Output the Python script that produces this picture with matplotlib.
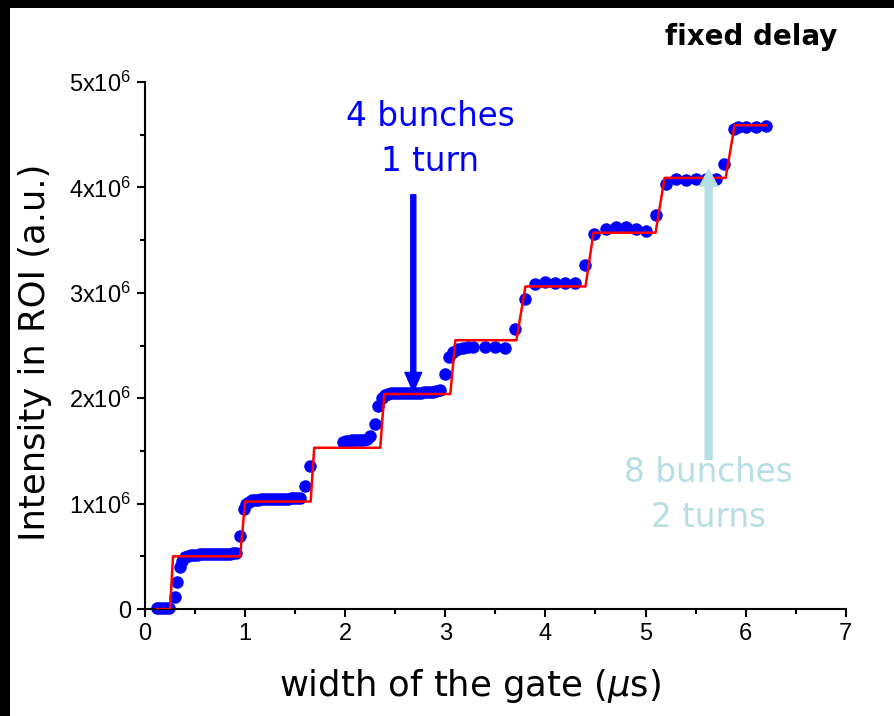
import matplotlib
matplotlib.use("Agg")
import matplotlib.pyplot as plt
from matplotlib.patches import Rectangle
from matplotlib.ticker import MultipleLocator, FuncFormatter

# measured points (gate width in us, intensity in units of 1e6)
gate_width = [0.12, 0.15, 0.18, 0.21, 0.24,
              0.30, 0.32, 0.35, 0.37,
              0.40, 0.43, 0.46, 0.49, 0.52, 0.55, 0.58, 0.61, 0.64, 0.67,
              0.70, 0.73, 0.76, 0.79, 0.82, 0.85, 0.88, 0.91,
              0.95, 0.99, 1.01,
              1.04, 1.07, 1.10, 1.13, 1.16, 1.19, 1.22, 1.25, 1.28, 1.31,
              1.34, 1.37, 1.40, 1.43, 1.46, 1.49, 1.52, 1.55,
              1.60, 1.65,
              1.98, 2.01, 2.04, 2.07, 2.10, 2.13, 2.16, 2.19, 2.22,
              2.25, 2.30, 2.33, 2.37,
              2.40, 2.43, 2.46, 2.49, 2.52, 2.55, 2.58, 2.61, 2.64, 2.67,
              2.70, 2.73, 2.76, 2.79, 2.82, 2.85, 2.88, 2.91, 2.95,
              3.00, 3.04, 3.08,
              3.13, 3.18, 3.23, 3.28, 3.40, 3.50, 3.60,
              3.70, 3.80,
              3.90, 4.00, 4.10, 4.20, 4.30,
              4.40, 4.49,
              4.60, 4.70, 4.80, 4.90, 5.00,
              5.10, 5.20,
              5.30, 5.40, 5.50, 5.60, 5.70,
              5.78, 5.88,
              5.92, 6.00, 6.10, 6.20]
intensity = [0.01, 0.01, 0.01, 0.01, 0.01,
             0.11, 0.26, 0.40, 0.46,
             0.49, 0.50, 0.51, 0.51, 0.51, 0.52, 0.52, 0.52, 0.52, 0.52,
             0.52, 0.52, 0.52, 0.52, 0.52, 0.52, 0.53, 0.53,
             0.69, 0.95, 1.00,
             1.02, 1.03, 1.03, 1.03, 1.04, 1.04, 1.04, 1.04, 1.04, 1.04,
             1.04, 1.04, 1.04, 1.04, 1.05, 1.05, 1.05, 1.05,
             1.17, 1.36,
             1.58, 1.59, 1.59, 1.60, 1.60, 1.60, 1.60, 1.60, 1.61,
             1.64, 1.76, 1.93, 2.00,
             2.03, 2.04, 2.05, 2.05, 2.05, 2.05, 2.05, 2.05, 2.05, 2.05,
             2.05, 2.05, 2.05, 2.06, 2.06, 2.06, 2.06, 2.07, 2.08,
             2.23, 2.39, 2.44,
             2.47, 2.48, 2.49, 2.49, 2.49, 2.49, 2.48,
             2.66, 2.94,
             3.08, 3.10, 3.09, 3.09, 3.09,
             3.26, 3.56,
             3.61, 3.62, 3.62, 3.61, 3.59,
             3.74, 4.03,
             4.08, 4.07, 4.08, 4.08, 4.08,
             4.22, 4.55,
             4.57, 4.57, 4.57, 4.58]

# fitted staircase
step_x = [0.12, 0.25, 0.28, 0.95, 1.00, 1.655, 1.69, 2.35, 2.39, 3.05,
          3.10, 3.71, 3.80, 4.40, 4.48, 5.10, 5.19, 5.80, 5.89, 6.20]
step_y = [0.0, 0.0, 0.50, 0.50, 1.02, 1.02, 1.53, 1.53, 2.04, 2.04,
          2.55, 2.55, 3.06, 3.06, 3.57, 3.57, 4.09, 4.09, 4.59, 4.59]

plt.rcParams["mathtext.fontset"] = "custom"
plt.rcParams["mathtext.rm"] = "Liberation Sans"
plt.rcParams["mathtext.it"] = "DejaVu Sans:italic"

fig = plt.figure(figsize=(8.95, 7.16), dpi=100, facecolor="black")
fig.add_artist(Rectangle((10 / 895, 0), 1, 1 - 8 / 716, transform=fig.transFigure,
                         facecolor="white", edgecolor="none", zorder=0))
ax = fig.add_axes([0.162, 0.1494, 0.783, 0.7361])
ax.set_facecolor("white")

ax.plot(gate_width, [v * 1e6 for v in intensity], "o", color="#0000ff",
        markersize=9, markeredgewidth=0, zorder=2, clip_on=False)
ax.plot(step_x, [v * 1e6 for v in step_y], color="red", linewidth=1.8, zorder=3)

ax.set_xlim(0, 7)
ax.set_ylim(0, 5e6)
ax.spines["top"].set_visible(False)
ax.spines["right"].set_visible(False)
for s in ["left", "bottom"]:
    ax.spines[s].set_linewidth(1.5)

ax.xaxis.set_major_locator(MultipleLocator(1))
ax.xaxis.set_minor_locator(MultipleLocator(0.5))
ax.yaxis.set_major_locator(MultipleLocator(1e6))
ax.yaxis.set_minor_locator(MultipleLocator(0.5e6))


def fmt_y(v, pos):
    n = int(round(v / 1e6))
    if n == 0:
        return "0"
    return r"$\mathregular{%dx10^6}$" % n


ax.yaxis.set_major_formatter(FuncFormatter(fmt_y))
ax.tick_params(which="major", direction="out", length=6, width=1.5, labelsize=17,
               pad=4)
ax.tick_params(which="minor", direction="out", length=3.5, width=1.5)
for lab in ax.get_xticklabels() + ax.get_yticklabels():
    lab.set_fontfamily("Liberation Sans")

ax.set_xlabel(r"width of the gate ($\mu$s)", fontsize=25.5)
ax.xaxis.set_label_coords(0.464, -0.146)
ax.xaxis.label.set_va("center")
ax.set_ylabel("Intensity in ROI (a.u.)", fontsize=25.5)
ax.yaxis.set_label_coords(-0.157, 0.488)
ax.yaxis.label.set_va("center")

# annotations
ax.annotate("", xy=(2.68, 2.06e6), xytext=(2.68, 3.93e6),
            arrowprops=dict(width=3.6, headwidth=12, headlength=14,
                            color="#0000ff", shrink=0))
ax.text(2.85, 4.46e6, "4 bunches\n1 turn", color="#0000ff", fontsize=23.5,
        ha="center", va="center", linespacing=1.45)

ax.annotate("", xy=(5.63, 4.17e6), xytext=(5.63, 1.42e6),
            arrowprops=dict(width=5, headwidth=13, headlength=12,
                            color="#b7dee4", shrink=0))
ax.text(5.63, 1.08e6, "8 bunches\n2 turns", color="#b7dee4", fontsize=23.5,
        ha="center", va="center", linespacing=1.45)

fig.text(751 / 895, 1 - 37 / 716, "fixed delay", fontsize=20, fontweight="bold",
         ha="center", va="center")

fig.savefig("out.png", dpi=100, facecolor=fig.get_facecolor())
